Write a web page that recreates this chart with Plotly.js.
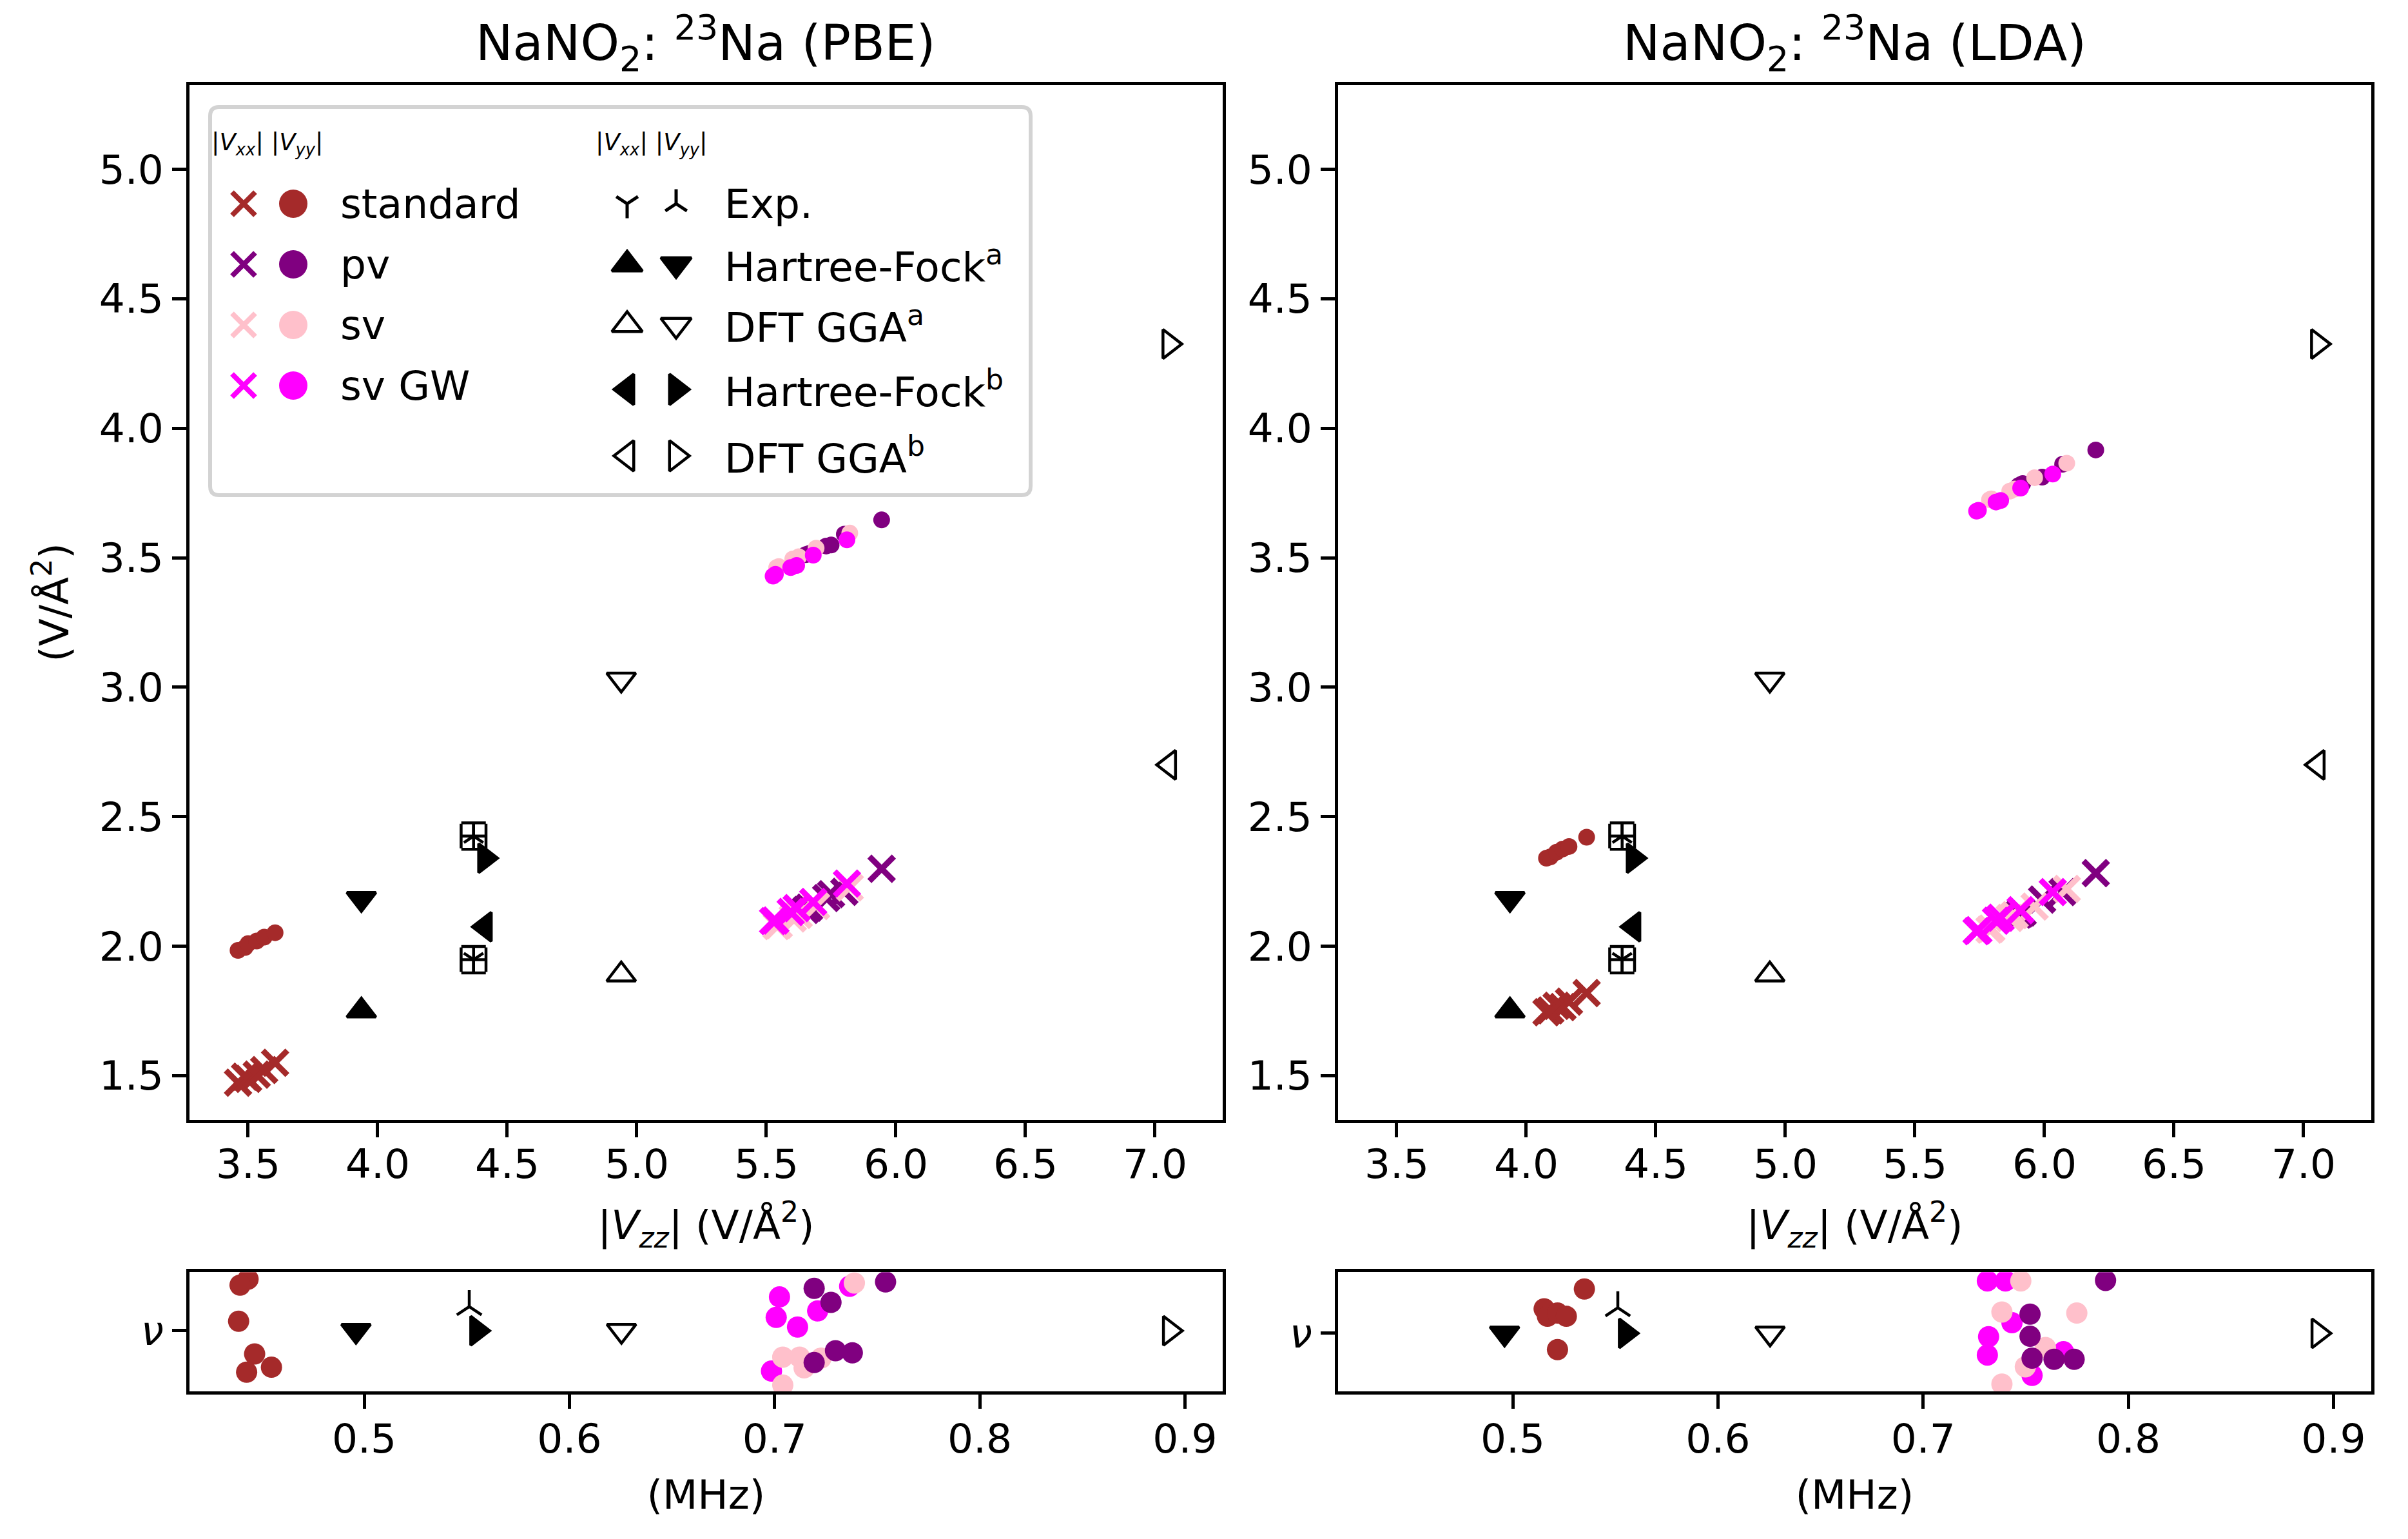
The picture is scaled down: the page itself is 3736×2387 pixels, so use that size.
<!DOCTYPE html>
<html>
<head>
<meta charset="utf-8">
<script src="https://cdn.plot.ly/plotly-3.0.1.min.js"></script>
<style>
html,body{margin:0;padding:0;background:#ffffff;}
#chart{width:3736px;height:2387px;}
</style>
</head>
<body>
<div id="chart"></div>
<script>
// ---------------- DATA ----------------
// Main panels: |Vzz| on x, |Vxx| (crosses) and |Vyy| (circles) on y, in V/Å^2
// PBE
const pbe_std_vzz  = [3.461, 3.488, 3.500, 3.533, 3.562, 3.604];
const pbe_std_vxx  = [1.473, 1.496, 1.488, 1.504, 1.522, 1.550];
const pbe_std_vyy  = [1.984, 1.995, 2.010, 2.020, 2.035, 2.052];
const pbe_pv_vzz   = [5.652, 5.665, 5.731, 5.750, 5.801, 5.945];
const pbe_pv_vxx   = [2.140, 2.149, 2.186, 2.201, 2.210, 2.299];
const pbe_pv_vyy   = [3.512, 3.516, 3.545, 3.549, 3.591, 3.646];
const pbe_sv_vzz   = [5.540, 5.548, 5.602, 5.625, 5.692, 5.822];
const pbe_sv_vxx   = [2.078, 2.082, 2.107, 2.121, 2.155, 2.227];
const pbe_sv_vyy   = [3.462, 3.466, 3.495, 3.504, 3.537, 3.595];
const pbe_svgw_vzz = [5.526, 5.535, 5.594, 5.617, 5.681, 5.811];
const pbe_svgw_vxx = [2.097, 2.099, 2.132, 2.147, 2.171, 2.242];
const pbe_svgw_vyy = [3.429, 3.436, 3.462, 3.470, 3.510, 3.569];
// LDA
const lda_std_vzz  = [4.078, 4.093, 4.117, 4.140, 4.165, 4.233];
const lda_std_vxx  = [1.745, 1.752, 1.770, 1.765, 1.786, 1.819];
const lda_std_vyy  = [2.340, 2.345, 2.363, 2.375, 2.385, 2.421];
const lda_pv_vzz   = [5.900, 5.908, 5.916, 5.991, 6.070, 6.198];
const lda_pv_vxx   = [2.122, 2.126, 2.130, 2.180, 2.209, 2.282];
const lda_pv_vyy   = [3.778, 3.782, 3.786, 3.811, 3.861, 3.916];
const lda_sv_vzz   = [5.788, 5.795, 5.866, 5.885, 5.962, 6.086];
const lda_sv_vxx   = [2.064, 2.068, 2.109, 2.120, 2.153, 2.221];
const lda_sv_vyy   = [3.724, 3.727, 3.757, 3.765, 3.809, 3.865];
const lda_svgw_vzz = [5.738, 5.745, 5.813, 5.831, 5.908, 6.032];
const lda_svgw_vxx = [2.058, 2.062, 2.098, 2.110, 2.139, 2.209];
const lda_svgw_vyy = [3.680, 3.683, 3.715, 3.721, 3.769, 3.823];
// Literature references (same in both panels): HF a, DFT GGA a, HF b, DFT GGA b
const ref_vzz = [3.937, 4.940, 4.414, 7.055];
const ref_vxx = [1.751, 1.890, 2.075, 2.700];
const ref_vyy = [2.183, 3.030, 2.340, 4.325];
const ref_nu  = [0.4960, 0.6254, 0.5550, 0.8926];
const ref_nu_jitter = [0, 0, 0, 0];
// Experiment
const exp_vzz = [4.370];
const exp_vxx = [1.948];
const exp_vyy = [2.425];
const exp_err_vzz = [0.048];
const exp_err_vxx = [0.051];
const exp_err_vyy = [0.051];
const exp_nu = [0.5512];
const exp_nu_jitter_pbe = [0.40];
const exp_nu_jitter_lda = [0.425];
// Bottom panels: quadrupole frequency nu (MHz) with vertical jitter
const pbe_nu_std    = [0.4434, 0.4395, 0.4388, 0.4466, 0.4427, 0.4548];
const pbe_jit_std   = [0.857, 0.757, 0.157, -0.386, -0.689, -0.607];
const pbe_nu_svgw   = [0.7024, 0.7008, 0.7112, 0.7210, 0.7366, 0.6985];
const pbe_jit_svgw  = [0.561, 0.221, 0.061, 0.329, 0.739, -0.671];
const pbe_nu_sv     = [0.7389, 0.7040, 0.7122, 0.7144, 0.7226, 0.7040];
const pbe_jit_sv    = [0.793, -0.439, -0.439, -0.618, -0.457, -0.904];
const pbe_nu_pv     = [0.7193, 0.7275, 0.7297, 0.7379, 0.7193, 0.7541];
const pbe_jit_pv    = [0.704, 0.471, -0.332, -0.368, -0.529, 0.811];
const lda_nu_std    = [0.5349, 0.5153, 0.5169, 0.5218, 0.5261, 0.5218];
const lda_jit_std   = [0.736, 0.407, 0.282, 0.336, 0.282, -0.271];
const lda_nu_svgw   = [0.7313, 0.7401, 0.7433, 0.7319, 0.7313, 0.7531, 0.7684];
const lda_jit_svgw  = [0.871, 0.871, 0.175, -0.057, -0.361, -0.700, -0.307];
const lda_nu_sv     = [0.7476, 0.7384, 0.7749, 0.7596, 0.7498, 0.7384];
const lda_jit_sv    = [0.871, 0.354, 0.336, -0.236, -0.557, -0.843];
const lda_nu_pv     = [0.7889, 0.7521, 0.7521, 0.7531, 0.7638, 0.7736];
const lda_jit_pv    = [0.879, 0.318, -0.050, -0.414, -0.432, -0.432];
// Tick values
const main_x_ticks = [3.5, 4.0, 4.5, 5.0, 5.5, 6.0, 6.5, 7.0];
const main_y_ticks = [1.5, 2.0, 2.5, 3.0, 3.5, 4.0, 4.5, 5.0];
const nu_x_ticks   = [0.5, 0.6, 0.7, 0.8, 0.9];
// Labels
const series_labels = ['standard', 'pv', 'sv', 'sv GW'];
const ref_labels = ['Exp.', 'Hartree-Fock<sup>a</sup>', 'DFT GGA<sup>a</sup>', 'Hartree-Fock<sup>b</sup>', 'DFT GGA<sup>b</sup>'];
const panel_titles = ['NaNO<sub>2</sub>: <sup>23</sup>Na (PBE)', 'NaNO<sub>2</sub>: <sup>23</sup>Na (LDA)'];

// ---------------- STYLE / LAYOUT ----------------
const W = 3736, H = 2387;
const FONT = 'DejaVu Sans';
const COLORS = ['#a52a2a', '#800080', '#ffc0cb', '#ff00ff'];
const BLACK = '#000000';
const SYM_VXX_REF = ['triangle-up', 'triangle-up-open', 'triangle-left', 'triangle-left-open'];
const SYM_VYY_REF = ['triangle-down', 'triangle-down-open', 'triangle-right', 'triangle-right-open'];
const SZ = {circ: 26, cross: 38, crossLw: 9, tri: 39, triLw: 4.5, exp: 25, expLw: 4.5, nuCirc: 33, nuExp: 32,
            legCirc: 44, legCross: 36, legCrossLw: 8, legTri: 41, legExp: 28};
// pixel geometry of the axes boxes
const PX = {mainL: 293.5, mainR: 1897.3, shift: 1782, mainT: 132.3, mainB: 1736.7, nuT: 1973.3, nuB: 2158.3};
const dom = (a, b) => [a / W, b / W];
const domY = (t, b) => [1 - b / H, 1 - t / H];

function pts(xa, ya, xs, ys, color, symbol, size, lw) {
  return {type: 'scatter', mode: 'markers', x: xs, y: ys, xaxis: xa, yaxis: ya,
    hoverinfo: 'skip', showlegend: false, cliponaxis: true,
    marker: {symbol: symbol, size: size, color: color, line: {width: lw, color: color}}};
}

function mainTraces(xa, ya, sets) {
  const t = [];
  sets.forEach((s, i) => {
    t.push(pts(xa, ya, s[0], s[1], COLORS[i], 'x-thin-open', SZ.cross, SZ.crossLw));
    t.push(pts(xa, ya, s[0], s[2], COLORS[i], 'circle', SZ.circ, 0));
  });
  // references
  const rx = pts(xa, ya, ref_vzz, ref_vxx, BLACK, SYM_VXX_REF, SZ.tri, SZ.triLw);
  const ry = pts(xa, ya, ref_vzz, ref_vyy, BLACK, SYM_VYY_REF, SZ.tri, SZ.triLw);
  t.push(rx, ry);
  // experiment with error bars
  const eb = (arr) => ({type: 'data', array: arr, visible: true, width: 19, thickness: 4.5, color: BLACK});
  const ex = pts(xa, ya, exp_vzz, exp_vxx, BLACK, 'y-down-open', SZ.exp, SZ.expLw);
  ex.error_x = eb(exp_err_vzz); ex.error_y = eb(exp_err_vxx);
  const ey = pts(xa, ya, exp_vzz, exp_vyy, BLACK, 'y-up-open', SZ.exp, SZ.expLw);
  ey.error_x = eb(exp_err_vzz); ey.error_y = eb(exp_err_vyy);
  t.push(ex, ey);
  return t;
}

function nuTraces(xa, ya, sets, expJit) {
  // draw order: standard, sv GW, sv, pv
  const t = [];
  const order = [0, 3, 2, 1];
  order.forEach(i => {
    t.push(pts(xa, ya, sets[i][0], sets[i][1], COLORS[i], 'circle', SZ.nuCirc, 0));
  });
  t.push(pts(xa, ya, ref_nu, ref_nu_jitter, BLACK, SYM_VYY_REF, SZ.tri, SZ.triLw));
  t.push(pts(xa, ya, exp_nu, expJit, BLACK, 'y-up-open', SZ.nuExp, SZ.expLw));
  return t;
}

let traces = [];
traces = traces.concat(mainTraces('x', 'y', [
  [pbe_std_vzz, pbe_std_vxx, pbe_std_vyy], [pbe_pv_vzz, pbe_pv_vxx, pbe_pv_vyy],
  [pbe_sv_vzz, pbe_sv_vxx, pbe_sv_vyy], [pbe_svgw_vzz, pbe_svgw_vxx, pbe_svgw_vyy]]));
traces = traces.concat(mainTraces('x2', 'y2', [
  [lda_std_vzz, lda_std_vxx, lda_std_vyy], [lda_pv_vzz, lda_pv_vxx, lda_pv_vyy],
  [lda_sv_vzz, lda_sv_vxx, lda_sv_vyy], [lda_svgw_vzz, lda_svgw_vxx, lda_svgw_vyy]]));
traces = traces.concat(nuTraces('x3', 'y3', [
  [pbe_nu_std, pbe_jit_std], [pbe_nu_pv, pbe_jit_pv], [pbe_nu_sv, pbe_jit_sv], [pbe_nu_svgw, pbe_jit_svgw]], exp_nu_jitter_pbe));
traces = traces.concat(nuTraces('x4', 'y4', [
  [lda_nu_std, lda_jit_std], [lda_nu_pv, lda_jit_pv], [lda_nu_sv, lda_jit_sv], [lda_nu_svgw, lda_jit_svgw]], exp_nu_jitter_lda));

// ---------------- custom two-symbol legend (pixel space overlay axis x5/y5) ----------------
const LEG = {
  box: [326, 166, 1599, 768], radius: 14,
  headerY: 223, headerX: [326, 922],
  leftX1: 378, leftX2: 455, leftXT: 526, leftRows: [316, 410, 504, 598],
  rightX1: 973, rightX2: 1049, rightXT: 1122, rightRows: [316, 410, 504, 604, 707]
};
const legTrace = (xs, ys, colors, symbols, size, lw) => ({type: 'scatter', mode: 'markers', x: xs, y: ys,
  xaxis: 'x5', yaxis: 'y5', hoverinfo: 'skip', showlegend: false, cliponaxis: false,
  marker: {symbol: symbols, size: size, color: colors, line: {width: lw, color: colors}}});
const nL = LEG.leftRows.length;
traces.push(legTrace(Array(nL).fill(LEG.leftX1), LEG.leftRows, COLORS, 'x-thin-open', SZ.legCross, SZ.legCrossLw));
traces.push(legTrace(Array(nL).fill(LEG.leftX2), LEG.leftRows, COLORS, 'circle', SZ.legCirc, 0));
traces.push(legTrace([LEG.rightX1], [LEG.rightRows[0]], BLACK, 'y-down-open', SZ.legExp, 5));
traces.push(legTrace([LEG.rightX2], [LEG.rightRows[0]], BLACK, 'y-up-open', SZ.legExp, 5));
traces.push(legTrace(Array(4).fill(LEG.rightX1), LEG.rightRows.slice(1), BLACK, SYM_VXX_REF, SZ.legTri, SZ.triLw));
traces.push(legTrace(Array(4).fill(LEG.rightX2), LEG.rightRows.slice(1), BLACK, SYM_VYY_REF, SZ.legTri, SZ.triLw));

const [bx0, by0, bx1, by1] = LEG.box; const r = LEG.radius;
const legPath = `M${bx0 + r},${by0} H${bx1 - r} Q${bx1},${by0} ${bx1},${by0 + r} V${by1 - r} Q${bx1},${by1} ${bx1 - r},${by1} H${bx0 + r} Q${bx0},${by1} ${bx0},${by1 - r} V${by0 + r} Q${bx0},${by0} ${bx0 + r},${by0} Z`;

const annotations = [];
const txt = (text, x, y, size, extra) => Object.assign({text: text, x: x, y: y, xref: 'x5', yref: 'y5',
  xanchor: 'left', yanchor: 'middle', showarrow: false, font: {family: FONT, size: size, color: BLACK}}, extra || {});
const hdr = '|<i>V</i><sub><i>xx</i></sub>| |<i>V</i><sub><i>yy</i></sub>|';
annotations.push(txt(hdr, LEG.headerX[0], LEG.headerY, 37));
annotations.push(txt(hdr, LEG.headerX[1], LEG.headerY, 37));
series_labels.forEach((s, i) => annotations.push(txt(s, LEG.leftXT, LEG.leftRows[i], 63)));
ref_labels.forEach((s, i) => annotations.push(txt(s, LEG.rightXT, LEG.rightRows[i], 63)));
// panel titles
const cPBE = (PX.mainL + PX.mainR) / 2 / W, cLDA = (PX.mainL + PX.mainR + 2 * PX.shift) / 2 / W;
[cPBE, cLDA].forEach((cx, i) => annotations.push({text: panel_titles[i], x: cx, y: 1 - 67 / H, xref: 'paper', yref: 'paper',
  xanchor: 'center', yanchor: 'middle', showarrow: false, font: {family: FONT, size: 77, color: BLACK}}));

// ---------------- axes ----------------
const base = {showline: true, mirror: true, linecolor: BLACK, linewidth: 5, ticks: 'outside', ticklen: 22,
  tickwidth: 5, tickcolor: BLACK, showgrid: false, zeroline: false, automargin: false, fixedrange: true,
  tickfont: {family: FONT, size: 63, color: BLACK}};
const vzzTitle = {text: '|<i>V</i><sub><i>zz</i></sub>| (V/Å<sup>2</sup>)', font: {family: FONT, size: 63, color: BLACK}, standoff: 38};
const mhzTitle = {text: '(MHz)', font: {family: FONT, size: 63, color: BLACK}, standoff: 30};
const mainX = (d) => Object.assign({}, base, {domain: d, range: [3.2724, 7.262], tickvals: main_x_ticks, tickformat: '.1f',
  ticklabelstandoff: -12, title: vzzTitle});
const mainY = (d, anchor, withTitle) => Object.assign({}, base, {domain: d, anchor: anchor, range: [1.330, 5.324], tickvals: main_y_ticks, tickformat: '.1f',
  title: withTitle ? {text: '(V/Å<sup>2</sup>)', font: {family: FONT, size: 63, color: BLACK}, standoff: 28} : {text: ''}});
const nuX = (d, anchor) => Object.assign({}, base, {domain: d, anchor: anchor, range: [0.4147, 0.9185], tickvals: nu_x_ticks, tickformat: '.1f',
  ticklabelstandoff: -8, title: mhzTitle});
const nuY = (d, anchor, rng) => Object.assign({}, base, {domain: d, anchor: anchor, range: rng, tickvals: [0], ticktext: ['<i>ν</i>']});

const dPBE = dom(PX.mainL, PX.mainR), dLDA = dom(PX.mainL + PX.shift, PX.mainR + PX.shift);
const dMainY = domY(PX.mainT, PX.mainB), dNuY = domY(PX.nuT, PX.nuB);

const layout = {
  width: W, height: H, autosize: false,
  margin: {l: 0, r: 0, t: 0, b: 0, pad: 0},
  paper_bgcolor: '#ffffff', plot_bgcolor: 'rgba(0,0,0,0)',
  showlegend: false,
  font: {family: FONT, color: BLACK},
  xaxis: Object.assign(mainX(dPBE), {anchor: 'y'}),
  yaxis: mainY(dMainY, 'x', true),
  xaxis2: Object.assign(mainX(dLDA), {anchor: 'y2'}),
  yaxis2: mainY(dMainY, 'x2', false),
  xaxis3: nuX(dPBE, 'y3'),
  yaxis3: nuY(dNuY, 'x3', [-1.011, 0.971]),
  xaxis4: nuX(dLDA, 'y4'),
  yaxis4: nuY(dNuY, 'x4', [-0.968, 1.014]),
  xaxis5: {domain: [0, 1], range: [0, W], visible: false, fixedrange: true, anchor: 'y5'},
  yaxis5: {domain: [0, 1], range: [H, 0], visible: false, fixedrange: true, anchor: 'x5'},
  shapes: [{type: 'path', path: legPath, xref: 'x5', yref: 'y5', layer: 'below',
    line: {color: '#d3d3d3', width: 6}, fillcolor: 'rgba(255,255,255,0.8)'}],
  annotations: annotations
};

Plotly.newPlot('chart', traces, layout, {staticPlot: true, displayModeBar: false});
</script>
</body>
</html>
